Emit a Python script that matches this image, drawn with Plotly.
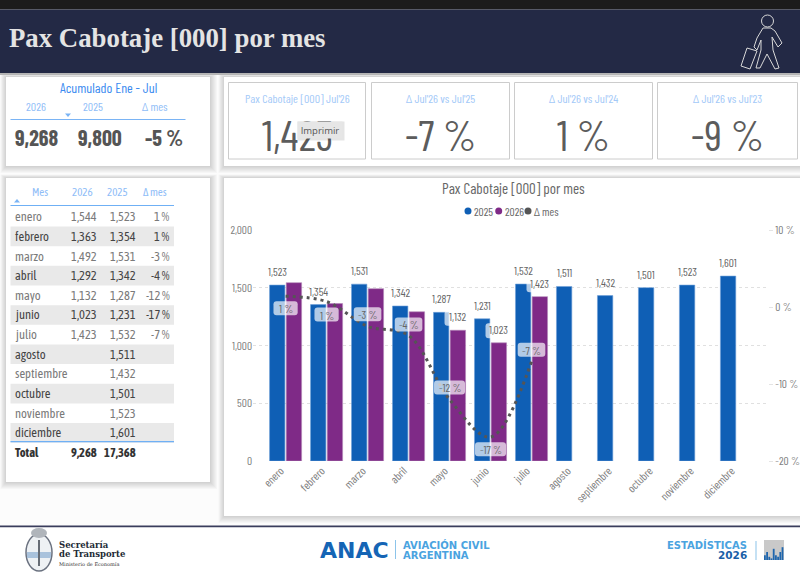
import plotly.graph_objects as go

W, H = 800, 580

# datos
meses = ["enero", "febrero", "marzo", "abril", "mayo", "junio", "julio",
         "agosto", "septiembre", "octubre", "noviembre", "diciembre"]
pax_2025 = [1523, 1354, 1531, 1342, 1287, 1231, 1532, 1511, 1432, 1501, 1523, 1601]
pax_2026 = [1544, 1363, 1492, 1292, 1132, 1023, 1423, None, None, None, None, None]
delta_mes = [1.4, 0.7, -2.5, -3.7, -12.0, -16.9, -7.1]
delta_txt = ["1 %", "1 %", "-3 %", "-4 %", "-12 %", "-17 %", "-7 %"]
etiquetas_2026 = ["mayo", "junio", "julio"]
total_2026, total_2025 = "9,268", "17,368"
ticks_delta = [-20, -10, 0, 10]
ticks_delta_txt = ["-20 %", "-10 %", "0 %", "10 %"]

acum_hdr = ["2026", "2025", "Δ mes"]
acum_val = ["9,268", "9,800", "-5 %"]
kpi_tit = ["Pax Cabotaje [000] Jul'26", "Δ Jul'26 vs Jul'25", "Δ Jul'26 vs Jul'24", "Δ Jul'26 vs Jul'23"]
kpi_val = ["1,423", "-7 %", "1 %", "-9 %"]

NARROW = "Barlow Condensed, Roboto, sans-serif"
TABLA = "Asap Condensed, Barlow Condensed, Roboto, sans-serif"
AZUL = "#0f5fb5"
VIOLETA = "#7f2a87"
GRIS = "#5f5f5f"

shapes = []
annots = []


def fx(x):
    return x / W


def fy(y):
    return 1 - y / H


def rect(x0, y0, x1, y1, fill="white", line=None, lw=1):
    shapes.append(dict(type="rect", xref="paper", yref="paper", layer="below",
                       x0=fx(x0), x1=fx(x1), y0=fy(y0), y1=fy(y1), fillcolor=fill,
                       line=dict(color=line, width=lw) if line else dict(width=0)))


def tarjeta(x0, y0, x1, y1):
    # sombra difusa y tarjeta blanca
    for i in range(7, 0, -1):
        rect(x0 - i * 0.8, y0 - i / 2, x1 + i, y1 + i, fill="rgba(0,0,0,0.025)")
    rect(x0, y0, x1, y1, fill="white")


def texto(x, y, t, size=11, color=GRIS, anchor="center", font=NARROW, bold=False):
    annots.append(dict(xref="paper", yref="paper", x=fx(x), y=fy(y), text=f"<b>{t}</b>" if bold else t,
                       showarrow=False, xanchor=anchor, yanchor="middle", borderpad=0,
                       font=dict(size=size, color=color, family=font)))


def trazo(path, color, lw=1, fill=None):
    shapes.append(dict(type="path", xref="paper", yref="paper", layer="below", path=path,
                       line=dict(color=color, width=lw), fillcolor=fill))


def poli(pts, cerrar=False):
    s = "M " + " L ".join(f"{fx(a):.5f},{fy(b):.5f}" for a, b in pts)
    return s + (" Z" if cerrar else "")


def pastilla(mes, valor, eje, w, h, dx, dy, color="rgba(255,255,255,0.68)"):
    # rectangulo redondeado en pixeles, anclado a los ejes del grafico
    r = 3
    x0, x1, y0, y1 = dx - w / 2, dx + w / 2, dy - h / 2, dy + h / 2
    path = (f"M {x0 + r},{y0} L {x1 - r},{y0} Q {x1},{y0} {x1},{y0 + r} L {x1},{y1 - r} "
            f"Q {x1},{y1} {x1 - r},{y1} L {x0 + r},{y1} Q {x0},{y1} {x0},{y1 - r} "
            f"L {x0},{y0 + r} Q {x0},{y0} {x0 + r},{y0} Z")
    shapes.append(dict(type="path", xref="x", yref=eje, xsizemode="pixel", ysizemode="pixel",
                       xanchor=mes, yanchor=valor, path=path, fillcolor=color, line=dict(width=0)))


# tarjetas
tarjeta(6, 77, 210, 166)
tarjeta(224, 77, 800, 166)
tarjeta(6, 178, 210, 482)
tarjeta(224, 178, 800, 516)

# encabezado
rect(0, 0, 800, 9.5, fill="#1c1c1c")
rect(0, 9.5, 800, 73, fill="#232945")
rect(0, 73, 800, 75, fill="#b5b5b5")
texto(8, 38, "Pax Cabotaje [000] por mes", size=26.8, color="#e4e4e4", anchor="left",
      font="Liberation Serif", bold=True)

# icono pasajero
ICONO = "#d8d8d8"
shapes.append(dict(type="circle", xref="paper", yref="paper", layer="below", x0=fx(761.5), x1=fx(773.5),
                   y0=fy(15), y1=fy(27), line=dict(color=ICONO, width=1)))
trazo(poli([(763, 28), (771, 28), (775, 31), (782, 43), (778, 47), (772, 37), (773, 50), (779, 68), (775, 69),
            (767, 54), (760, 68), (756, 68), (761, 50), (761, 40), (757, 50), (754, 47), (757, 38)], True), ICONO)
trazo(poli([(747, 48), (757, 51), (750, 69), (741, 66)], True), ICONO)

# acumulado
texto(108, 87, "Acumulado Ene - Jul", size=14, color="#3b8bf0")
for cx, h, v, cv in zip([36, 93, 155], acum_hdr, acum_val, [36.5, 100, 164]):
    texto(cx, 106, h, size=12, color="#8fbdf7")
    texto(cv, 137, v, size=22, color="#555555", bold=True)
rect(10.5, 119, 185.5, 120, fill="#7ab4f5")
trazo(poli([(65, 113.5), (71, 113.5), (68, 117)], True), "#7ab4f5", 0, "#7ab4f5")

# KPI
for (x0, x1), t, v in zip([(228.5, 365.5), (371.5, 509.5), (514.5, 652.5), (657.5, 797.5)], kpi_tit, kpi_val):
    rect(x0, 82.5, x1, 159, fill="white", line="#cccccc", lw=1)
    texto((x0 + x1) / 2, 98, t, size=12, color="#a3c9f8")
    texto((x0 + x1) / 2, 134, v, size=43, color="#5c5c5c")

# tabla
FILA_Y0, FILA_H = 216.7, 19.65
for cx, t, anchor in [(39.5, "Mes", "center"), (94, "2026", "right"), (129, "2025", "right"), (168, "Δ mes", "right")]:
    texto(cx, 192, t, size=11, color="#8fbdf7", anchor=anchor, font=TABLA)
trazo(poli([(14, 202.5), (20, 202.5), (17, 199)], True), "#7ab4f5", 0, "#7ab4f5")
rect(10.5, 205, 174, 206, fill="#6fb0f5")
for i, mes in enumerate(meses):
    yc = FILA_Y0 + i * FILA_H
    par = i % 2 == 1
    if par:
        rect(10.5, yc - FILA_H / 2, 174, yc + FILA_H / 2, fill="#e9e9e9")
    col = "#444444" if par else "#7a7a7a"
    texto(14, yc, mes, size=12.5, color=col, anchor="left", font=TABLA)
    if pax_2026[i] is not None:
        texto(98, yc, f"{pax_2026[i]:,}", size=12.5, color=col, anchor="right", font=TABLA)
        texto(171, yc, delta_txt[i], size=12.5, color=col, anchor="right", font=TABLA)
    texto(136.5, yc, f"{pax_2025[i]:,}", size=12.5, color=col, anchor="right", font=TABLA)
rect(10.5, 441, 174, 442.2, fill="#6fb0f5")
texto(14, 452, "Total", size=12.5, color="#333333", anchor="left", bold=True, font=TABLA)
texto(98, 452, total_2026, size=12.5, color="#333333", anchor="right", bold=True, font=TABLA)
texto(136.5, 452, total_2025, size=12.5, color="#333333", anchor="right", bold=True, font=TABLA)

# titulo y leyenda del grafico
texto(513, 188, "Pax Cabotaje [000] por mes", size=15, color="#666666")
for cx, t, c in [(468, "2025", AZUL), (498.7, "2026", VIOLETA), (528, "Δ mes", "#555555")]:
    shapes.append(dict(type="circle", xref="paper", yref="paper", layer="below", x0=fx(cx - 3.5), x1=fx(cx + 3.5),
                       y0=fy(207.5), y1=fy(214.5), fillcolor=c, line=dict(width=0)))
    texto(cx + 5, 211, t, size=11.5, color="#666666", anchor="left")

# grafico
fig = go.Figure()
fig.add_trace(go.Bar(x=meses, y=pax_2025, name="2025", marker=dict(color=AZUL, line=dict(color="#6f9fd8", width=0.6))))
fig.add_trace(go.Bar(x=meses, y=pax_2026, name="2026", marker=dict(color=VIOLETA, line=dict(color="#b48ab8", width=0.6))))
fig.add_trace(go.Scatter(x=meses[:7], y=delta_mes, name="Δ mes", yaxis="y2", mode="lines",
                         line=dict(color="#555555", width=3, dash="3px,4px", shape="spline", smoothing=1.0)))

# etiquetas de barras
for mes, v in zip(meses, pax_2025):
    annots.append(dict(x=mes, y=v, xref="x", yref="y", xshift=-8, yshift=5, yanchor="bottom", showarrow=False,
                       text=f"{v:,}", font=dict(size=11.5, color="#666666", family=NARROW)))
for mes, v in zip(meses, pax_2026):
    if mes in etiquetas_2026:
        pastilla(mes, v, "y", 26, 15, 8, 12)
        annots.append(dict(x=mes, y=v, xref="x", yref="y", xshift=8, yshift=5, yanchor="bottom", showarrow=False,
                           text=f"{v:,}", font=dict(size=11.5, color="#666666", family=NARROW)))

# etiquetas de la linea
desp_linea = [-12, -13, 12, 11, 12, -12, 12]
for mes, d, t, dy in zip(meses, delta_mes, delta_txt, desp_linea):
    pastilla(mes, d, "y2", 14 + 3.4 * len(t), 14, 0, dy)
    annots.append(dict(x=mes, y=d, xref="x", yref="y2", yshift=dy, showarrow=False, text=t,
                       font=dict(size=11.5, color="#666666", family=NARROW)))

# pie
rect(0, 525.5, 800, 527.5, fill="#3a3d5c")
rect(0, 527.5, 800, 580, fill="white")
shapes.append(dict(type="circle", xref="paper", yref="paper", layer="below", x0=fx(26), x1=fx(52), y0=fy(534),
                   y1=fy(571), fillcolor="#eef1f4", line=dict(color="#6b7280", width=1.5)))
shapes.append(dict(type="circle", xref="paper", yref="paper", layer="below", x0=fx(31), x1=fx(47), y0=fy(528),
                   y1=fy(538), fillcolor="#b0b5bb", line=dict(width=0)))
rect(27, 552, 51, 558, fill="#a9c2dc")
rect(38, 540, 40, 566, fill="#666c75")
texto(58, 545, "Secretaría", size=8.5, color="#222a35", anchor="left", font="DejaVu Serif", bold=True)
texto(58, 554, "de Transporte", size=8.5, color="#222a35", anchor="left", font="DejaVu Serif", bold=True)
texto(58, 563.5, "Ministerio de Economía", size=5, color="#333333", anchor="left", font="DejaVu Serif")
texto(319, 550, "ANAC", size=22, color="#1565b5", anchor="left", font="DejaVu Sans", bold=True)
rect(395, 540, 396, 559, fill="#8cc4ea")
texto(402, 544.5, "AVIACIÓN CIVIL", size=10, color="#4aa3e0", anchor="left", font="DejaVu Sans", bold=True)
texto(402, 555, "ARGENTINA", size=10, color="#4aa3e0", anchor="left", font="DejaVu Sans", bold=True)
texto(748, 544.5, "ESTADÍSTICAS", size=10, color="#4aa3e0", anchor="right", font="DejaVu Sans", bold=True)
texto(748, 555, "2026", size=10.5, color="#1a5fa8", anchor="right", font="DejaVu Sans", bold=True)
rect(755.5, 541, 756.5, 560, fill="#8cc4ea")
rect(764, 540, 784, 560, fill="#c9c9c9")
barras_icono = [3, 5, 2, 1, 7, 3, 2, 5, 8]
for i, b in enumerate(barras_icono):
    rect(764 + i * 2.2, 560 - b * 1.6, 765.8 + i * 2.2, 560, fill="#1f66ad")

# tooltip sobre el KPI
annots.append(dict(xref="paper", yref="paper", x=fx(320.8), y=fy(130.8), xanchor="center", yanchor="middle", text=" ",
                   showarrow=False, width=46, height=18, bgcolor="rgba(0,0,0,0.10)", borderpad=0))
annots.append(dict(xref="paper", yref="paper", x=fx(320), y=fy(130), xanchor="center", yanchor="middle", text="Imprimir",
                   showarrow=False, width=44, height=16, bgcolor="#e6e6e6", borderpad=0,
                   font=dict(size=9.5, color="#555555", family="Open Sans")))

eje_tick = dict(size=11.5, color="#808080")
fig.update_layout(
    width=W, height=H, margin=dict(l=0, r=0, t=0, b=0, pad=0, autoexpand=False), showlegend=False,
    paper_bgcolor="#fcfcfc", plot_bgcolor="rgba(0,0,0,0)",
    barmode="group", bargap=0.185, bargroupgap=0.08,
    shapes=shapes, annotations=annots, hovermode=False,
    font=dict(family=NARROW, color="#666666", size=11),
    xaxis=dict(domain=[fx(253), fx(768)], type="category", categoryorder="array", categoryarray=meses, automargin=False,
               range=[-0.795, 11.77], tickangle=-45, showgrid=False, zeroline=False, showline=False,
               ticks="", tickfont=eje_tick, ticklabelshift=-5),
    yaxis=dict(domain=[fy(461), fy(230)], range=[0, 2000], tickvals=[0, 500, 1000, 1500, 2000], tickformat=",d",
               showgrid=True, gridcolor="#e0e0e0", griddash="dot", gridwidth=1, zeroline=False, showline=False,
               ticks="", tickfont=eje_tick, automargin=False),
    yaxis2=dict(domain=[fy(461), fy(230)], overlaying="y", side="right", range=[-20, 10], tickvals=ticks_delta,
                ticktext=ticks_delta_txt, showgrid=False, zeroline=False, showline=False, ticks="outside", ticklen=4,
                tickcolor="#e4e4e4", tickfont=eje_tick, anchor="x", automargin=False),
)

fig.write_html("out.html", config={"displayModeBar": False},
               post_script="document.body.style.margin='0';document.body.style.overflow='hidden';")
